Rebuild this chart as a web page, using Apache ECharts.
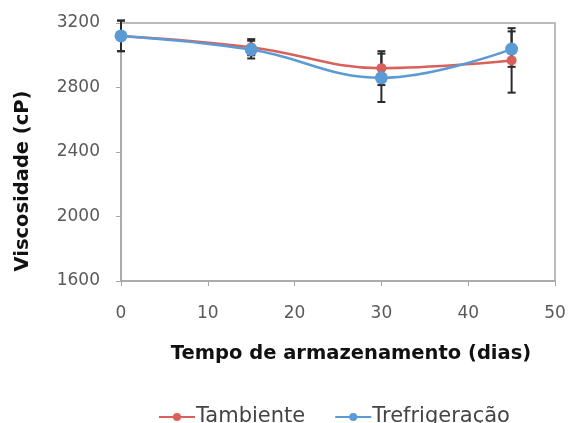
<!DOCTYPE html>
<html>
<head>
<meta charset="utf-8">
<script src="https://cdn.jsdelivr.net/npm/echarts@6/dist/echarts.min.js"></script>
<style>
  html, body { margin: 0; padding: 0; background: #fff; }
  #chart { width: 570px; height: 423px; }
</style>
</head>
<body>
<div id="chart"></div>
<script>
// Storage time (days)
const days = [0, 15, 30, 45];
// Viscosity (cP), mean and standard deviation
const tambiente = [3120, 3050, 2920, 2968];
const tambienteErr = [95, 50, 105, 200];
const trefrigeracao = [3120, 3035, 2860, 3038];
const trefrigeracaoErr = [95, 55, 150, 110];

const xTicks = [0, 10, 20, 30, 40, 50];
const yTicks = [1600, 2000, 2400, 2800, 3200];

const RED = '#d8625b';
const BLUE = '#5b9bd5';
const FONT = '"DejaVu Sans", sans-serif';

function pairs(values) {
  return days.map((d, i) => [d, values[i]]);
}
function errData(values, errs) {
  return days.map((d, i) => [d, values[i] - errs[i], values[i] + errs[i]]);
}

function errorBarSeries(values, errs) {
  return {
    type: 'custom',
    z: 1,
    silent: true,
    clip: false,
    data: errData(values, errs),
    renderItem: function (params, api) {
      const x = api.value(0);
      const lo = api.coord([x, api.value(1)]);
      const hi = api.coord([x, api.value(2)]);
      const hw = 4;
      const style = { stroke: '#2b2b2b', lineWidth: 2 };
      return {
        type: 'group',
        children: [
          { type: 'line', shape: { x1: lo[0], y1: lo[1], x2: hi[0], y2: hi[1] }, style },
          { type: 'line', shape: { x1: lo[0] - hw, y1: lo[1], x2: lo[0] + hw, y2: lo[1] }, style },
          { type: 'line', shape: { x1: hi[0] - hw, y1: hi[1], x2: hi[0] + hw, y2: hi[1] }, style }
        ]
      };
    }
  };
}

const chart = echarts.init(document.getElementById('chart'), null, { renderer: 'canvas' });
chart.setOption({
  animation: false,
  backgroundColor: '#ffffff',
  grid: { left: 121, right: 15, top: 23, bottom: 142, show: true, borderColor: '#a6a6a6', borderWidth: 1.5 },
  xAxis: {
    type: 'value',
    min: xTicks[0],
    max: xTicks[xTicks.length - 1],
    interval: 10,
    name: 'Tempo de armazenamento (dias)',
    nameLocation: 'middle',
    nameGap: 63,
    nameTextStyle: { fontFamily: FONT, fontWeight: 'bold', fontSize: 19.5, color: '#111', padding: [0, 0, 0, 26] },
    axisLine: { show: true, lineStyle: { color: '#a6a6a6', width: 1.5 } },
    axisTick: { show: true, length: 5, lineStyle: { color: '#a6a6a6' } },
    axisLabel: { fontFamily: FONT, fontSize: 17, color: '#595959', margin: 24 },
    splitLine: { show: false }
  },
  yAxis: {
    type: 'value',
    min: yTicks[0],
    max: yTicks[yTicks.length - 1],
    interval: 400,
    name: 'Viscosidade (cP)',
    nameLocation: 'middle',
    nameGap: 88,
    nameTextStyle: { fontFamily: FONT, fontWeight: 'bold', fontSize: 19.5, color: '#111', padding: [0, 58, 0, 0] },
    axisLine: { show: true, lineStyle: { color: '#a6a6a6', width: 1.5 } },
    axisTick: { show: true, length: 5, lineStyle: { color: '#a6a6a6' } },
    axisLabel: { fontFamily: FONT, fontSize: 17, color: '#595959', margin: 21, padding: [6, 0, 0, 0], formatter: v => String(v) },
    splitLine: { show: false }
  },
  legend: {
    top: 406,
    left: 158,
    padding: 0,
    itemGap: 29,
    itemWidth: 36,
    itemHeight: 10,
    textStyle: { fontFamily: FONT, fontSize: 21, lineHeight: 22, color: '#444', padding: [0, 0, 0, -4] },
    data: ['Tambiente', 'Trefrigeração']
  },
  series: [
    errorBarSeries(tambiente, tambienteErr),
    errorBarSeries(trefrigeracao, trefrigeracaoErr),
    {
      name: 'Tambiente',
      type: 'line',
      z: 3,
      smooth: 0.4,
      data: pairs(tambiente),
      symbol: 'circle',
      symbolSize: 10,
      itemStyle: { color: RED },
      lineStyle: { color: RED, width: 2.5 }
    },
    {
      name: 'Trefrigeração',
      type: 'line',
      z: 4,
      smooth: 0.4,
      data: pairs(trefrigeracao),
      symbol: 'circle',
      symbolSize: 13,
      itemStyle: { color: BLUE },
      lineStyle: { color: BLUE, width: 2.5 }
    }
  ]
});
</script>
</body>
</html>
